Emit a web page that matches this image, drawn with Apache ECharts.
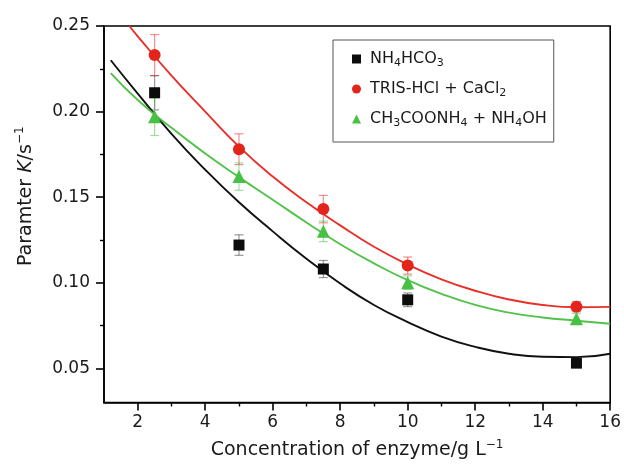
<!DOCTYPE html>
<html>
<head>
<meta charset="utf-8">
<script src="https://cdn.jsdelivr.net/npm/echarts@6/dist/echarts.min.js"></script>
<style>
html,body{margin:0;padding:0;background:#fff;}
#chart{width:624px;height:465px;}
</style>
</head>
<body>
<div id="chart"></div>
<script>
// ---- data ----
var conc = [2.5, 5, 7.5, 10, 15];
var kNH4HCO3 = [0.211, 0.122, 0.108, 0.090, 0.053];
var errNH4HCO3 = [0.010, 0.006, 0.005, 0.004, 0.002];
var kTRIS = [0.233, 0.178, 0.143, 0.110, 0.086];
var errTRIS = [0.012, 0.009, 0.008, 0.005, 0.003];
var kCH3 = [0.197, 0.162, 0.130, 0.100, 0.079];
var errCH3 = [0.011, 0.008, 0.006, 0.004, 0.003];

// fitted curves, read at sample points
var fitXBlack = [1.2, 2, 3, 4, 5, 6, 7, 8, 9, 10, 11, 12, 13, 14, 15, 16];
var fitBlack = [0.230, 0.2105, 0.187, 0.166, 0.147, 0.130, 0.114, 0.0995, 0.087, 0.077, 0.0685, 0.0625, 0.0585, 0.0567, 0.0565, 0.0585];
var fitXRed = [1.75, 2, 3, 4, 5, 6, 7, 8, 9, 10, 11, 12, 13, 14, 15, 16];
var fitRed = [0.250, 0.244, 0.221, 0.200, 0.1795, 0.162, 0.147, 0.1335, 0.121, 0.1107, 0.102, 0.0953, 0.0902, 0.0870, 0.0857, 0.0859];
var fitXGreen = [1.2, 2, 3, 4, 5, 6, 7, 8, 9, 10, 11, 12, 13, 14, 15, 16];
var fitGreen = [0.2225, 0.2068, 0.1905, 0.1755, 0.1617, 0.1485, 0.1352, 0.1225, 0.1113, 0.1015, 0.0935, 0.0870, 0.0825, 0.0797, 0.0778, 0.0760];

var xTicks = [2, 4, 6, 8, 10, 12, 14, 16];
var xMinorTicks = [3, 5, 7, 9, 11, 13, 15];
var yTicks = [0.05, 0.10, 0.15, 0.20, 0.25];
var yMinorTicks = [0.075, 0.125, 0.175, 0.225];

var seriesNames = ['NH4HCO3', 'TRIS-HCl + CaCl2', 'CH3COONH4 + NH4OH'];
var legendRich = {
  'NH4HCO3': '{t|NH}{s|4}{t|HCO}{s|3}',
  'TRIS-HCl + CaCl2': '{t|TRIS-HCl + CaCl}{s|2}',
  'CH3COONH4 + NH4OH': '{t|CH}{s|3}{t|COONH}{s|4}{t| + NH}{s|4}{t|OH}'
};

// ---- chart ----
var FONT = 'DejaVu Sans';
var cBlack = '#0c0c0c', cRed = '#e3241b', cGreen = '#47c043';
var eBlack = 'rgba(70,70,70,0.55)', eRed = 'rgba(227,36,27,0.5)', eGreen = 'rgba(71,192,67,0.5)';

function pairs(xs, ys) { return xs.map(function (x, i) { return [x, ys[i]]; }); }
function triples(xs, ys, es) { return xs.map(function (x, i) { return [x, ys[i], es[i]]; }); }

function errorSeries(data, color) {
  return {
    type: 'custom',
    silent: true,
    z: 1,
    data: data,
    encode: { x: 0, y: 1 },
    renderItem: function (params, api) {
      var x = api.value(0), y = api.value(1), e = api.value(2);
      var top = api.coord([x, y + e]);
      var bot = api.coord([x, y - e]);
      var w = 4.5;
      var st = { stroke: color, lineWidth: 1.2 };
      return {
        type: 'group',
        children: [
          { type: 'line', shape: { x1: top[0], y1: top[1], x2: bot[0], y2: bot[1] }, style: st },
          { type: 'line', shape: { x1: top[0] - w, y1: top[1], x2: top[0] + w, y2: top[1] }, style: st },
          { type: 'line', shape: { x1: bot[0] - w, y1: bot[1], x2: bot[0] + w, y2: bot[1] }, style: st }
        ]
      };
    }
  };
}

function fitSeries(data, color) {
  return {
    type: 'line', data: data, smooth: true, showSymbol: false, silent: true, z: 2,
    lineStyle: { color: color, width: 1.9 }, itemStyle: { color: color }
  };
}

var axisCommon = {
  axisLine: { show: true, lineStyle: { color: '#000', width: 1.6 } },
  splitLine: { show: false }
};

var chart = echarts.init(document.getElementById('chart'), null, { renderer: 'canvas' });
chart.setOption({
  animation: false,
  backgroundColor: '#fff',
  grid: {
    left: 104, right: 11, top: 26, bottom: 62,
    show: true, borderColor: '#000', borderWidth: 1.6, backgroundColor: 'transparent'
  },
  legend: {
    data: seriesNames,
    orient: 'vertical',
    left: 333, top: 40,
    padding: [11, 7, 13, 19],
    itemGap: 12,
    itemWidth: 9, itemHeight: 9,
    borderColor: '#555', borderWidth: 1,
    backgroundColor: '#fff',
    formatter: function (name) { return legendRich[name]; },
    textStyle: {
      fontFamily: FONT, fontSize: 16, color: '#1a1a1a', padding: [0, 0, 0, 4],
      rich: {
        t: { fontFamily: FONT, fontSize: 16, color: '#1a1a1a', lineHeight: 20 },
        s: { fontFamily: FONT, fontSize: 11, color: '#1a1a1a', lineHeight: 10, verticalAlign: 'bottom' }
      }
    }
  },
  xAxis: [
    Object.assign({}, axisCommon, {
      type: 'value', min: 1, max: 16, position: 'bottom',
      name: '{t|Concentration of enzyme/g L}{sup|\u22121}',
      nameLocation: 'middle', nameGap: 36,
      nameTextStyle: {
        fontFamily: FONT, fontSize: 19, color: '#1a1a1a',
        rich: {
          t: { fontFamily: FONT, fontSize: 19, color: '#1a1a1a', lineHeight: 24 },
          sup: { fontFamily: FONT, fontSize: 12, color: '#1a1a1a', lineHeight: 12, verticalAlign: 'top' }
        }
      },
      axisTick: { show: true, inside: false, length: 8, customValues: xTicks, lineStyle: { color: '#000', width: 1.6 } },
      axisLabel: { customValues: xTicks, fontFamily: FONT, fontSize: 17, color: '#1a1a1a', margin: 12 }
    }),
    {
      type: 'value', min: 1, max: 16, position: 'bottom',
      axisLine: { show: false }, splitLine: { show: false },
      axisTick: { show: true, inside: false, length: 4, customValues: xMinorTicks, lineStyle: { color: '#000', width: 1.4 } },
      axisLabel: { show: false }
    }
  ],
  yAxis: [
    Object.assign({}, axisCommon, {
      type: 'value', min: 0.03, max: 0.25, position: 'left',
      name: '{t|Paramter }{i|K}{t|/s}{sup|\u22121}',
      nameLocation: 'middle', nameRotate: 90, nameGap: 66,
      nameTextStyle: {
        fontFamily: FONT, fontSize: 19, color: '#1a1a1a', padding: [0, 0, 0, 36],
        rich: {
          t: { fontFamily: FONT, fontSize: 19, color: '#1a1a1a', lineHeight: 24 },
          i: { fontFamily: FONT, fontSize: 19, fontStyle: 'italic', color: '#1a1a1a', lineHeight: 24 },
          sup: { fontFamily: FONT, fontSize: 12, color: '#1a1a1a', lineHeight: 12, verticalAlign: 'top' }
        }
      },
      axisTick: { show: true, inside: false, length: 8, customValues: yTicks, lineStyle: { color: '#000', width: 1.6 } },
      axisLabel: {
        customValues: yTicks, fontFamily: FONT, fontSize: 17, color: '#1a1a1a', margin: 14,
        formatter: function (v) { return v.toFixed(2); }
      }
    }),
    {
      type: 'value', min: 0.03, max: 0.25, position: 'left',
      axisLine: { show: false }, splitLine: { show: false },
      axisTick: { show: true, inside: false, length: 4, customValues: yMinorTicks, lineStyle: { color: '#000', width: 1.4 } },
      axisLabel: { show: false }
    }
  ],
  series: [
    errorSeries(triples(conc, kNH4HCO3, errNH4HCO3), eBlack),
    errorSeries(triples(conc, kTRIS, errTRIS), eRed),
    errorSeries(triples(conc, kCH3, errCH3), eGreen),
    fitSeries(pairs(fitXBlack, fitBlack), '#111'),
    fitSeries(pairs(fitXRed, fitRed), '#e8302a'),
    fitSeries(pairs(fitXGreen, fitGreen), '#52c24a'),
    { name: seriesNames[0], type: 'scatter', symbol: 'rect', symbolSize: 11, z: 3,
      itemStyle: { color: cBlack, opacity: 1 }, data: pairs(conc, kNH4HCO3) },
    { name: seriesNames[1], type: 'scatter', symbol: 'circle', symbolSize: 12, z: 3,
      itemStyle: { color: cRed, opacity: 1 }, data: pairs(conc, kTRIS) },
    { name: seriesNames[2], type: 'scatter', symbol: 'triangle', symbolSize: 13, z: 3,
      itemStyle: { color: cGreen, opacity: 1 }, data: pairs(conc, kCH3) }
  ]
});
</script>
</body>
</html>
